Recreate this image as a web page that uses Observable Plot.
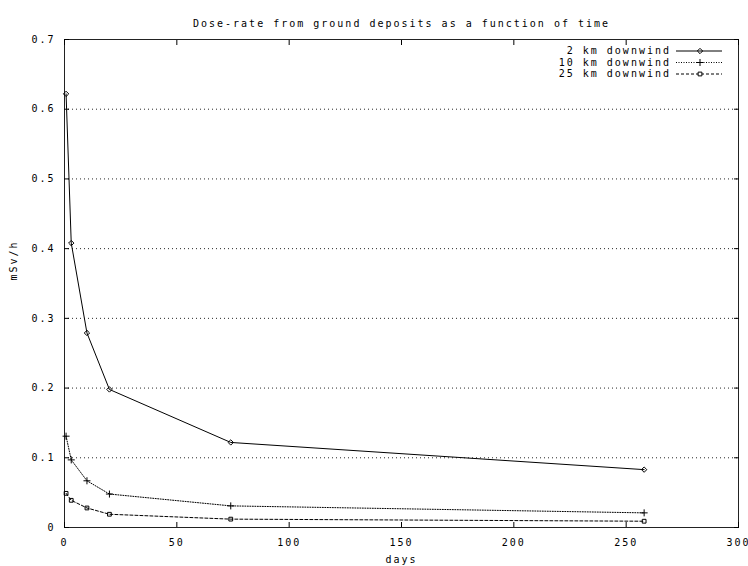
<!DOCTYPE html>
<html>
<head>
<meta charset="utf-8">
<script src="https://cdn.jsdelivr.net/npm/d3@7"></script>
<script src="https://cdn.jsdelivr.net/npm/@observablehq/plot@0.6"></script>
<style>
  html, body { margin: 0; padding: 0; background: #fff; }
  svg { display: block; }
</style>
</head>
<body>
<div id="chart"></div>
<script>
// ---- Data ----
const days = [0.7, 3, 10, 20, 74, 258];
const seriesNames = ["2 km downwind", "10 km downwind", "25 km downwind"];
const dose2km  = [0.622, 0.408, 0.279, 0.198, 0.122, 0.083];
const dose10km = [0.131, 0.097, 0.067, 0.048, 0.031, 0.021];
const dose25km = [0.049, 0.039, 0.028, 0.019, 0.012, 0.009];
const xTicks = [0, 50, 100, 150, 200, 250, 300];
const yTicks = [0, 0.1, 0.2, 0.3, 0.4, 0.5, 0.6, 0.7];
const titleText = "Dose-rate from ground deposits as a function of time";
const xLabel = "days";
const yLabel = "mSv/h";

const seriesValues = [dose2km, dose10km, dose25km];
const rows = seriesNames.map((name, i) => days.map((d, j) => ({series: name, day: d, dose: seriesValues[i][j]})));

const dash = ["none", "1,1.5", "3,2"];
const symbols = ["diamond2", "plus", "square2"];
const font = "'DejaVu Sans Mono', 'Liberation Mono', monospace";
const yFmt = d => d === 0 ? "0" : d.toFixed(1);
const blank = () => "";

const marks = [
  Plot.gridY(yTicks.filter(v => v > 0 && v < 0.7), {stroke: "#000", strokeOpacity: 0.85, strokeDasharray: "1,3"}),
  Plot.frame({stroke: "#222"}),
  Plot.axisY(yTicks, {anchor: "left", tickSize: 0, tickPadding: 9, tickFormat: yFmt, label: null}),
  Plot.axisY(yTicks, {anchor: "left", tickSize: -5, tickPadding: 0, tickFormat: blank, label: null}),
  Plot.axisY(yTicks, {anchor: "right", tickSize: -5, tickPadding: 0, tickFormat: blank, label: null}),
  Plot.axisX(xTicks, {anchor: "bottom", tickSize: 0, tickPadding: 11, label: null}),
  Plot.axisX(xTicks, {anchor: "bottom", tickSize: -5, tickPadding: 0, tickFormat: blank, label: null}),
  Plot.axisX(xTicks, {anchor: "top", tickSize: -5, tickPadding: 0, tickFormat: blank, label: null}),
  Plot.text([titleText], {frameAnchor: "top", dy: -20, text: d => d, fontSize: 10}),
  Plot.text([xLabel], {frameAnchor: "bottom", dy: 35, text: d => d, fontSize: 10}),
  Plot.text([yLabel], {frameAnchor: "left", dx: -51, dy: -3, rotate: -90, text: d => d, fontSize: 10})
];
rows.forEach((data, i) => {
  marks.push(Plot.line(data, {x: "day", y: "dose", stroke: "#000", strokeWidth: 1, strokeDasharray: dash[i]}));
  marks.push(Plot.dot(data, {x: "day", y: "dose", symbol: () => symbols[i], r: 2.4, stroke: "#000", fill: "none", strokeWidth: 1}));
});

const chart = Plot.plot({
  width: 748,
  height: 566,
  marginLeft: 64,
  marginRight: 10,
  marginTop: 39,
  marginBottom: 39,
  x: {domain: [0, 300]},
  y: {domain: [0, 0.7]},
  symbol: {type: "identity"},
  style: {fontFamily: font, fontSize: "10px", letterSpacing: "2px", color: "#000", background: "#fff"},
  marks
});

// ---- Legend (top-right, inside the frame) ----
const svg = d3.select(chart);
const legX = 671, lineX0 = 676, lineX1 = 722, markX = 700;
const rowY = [51, 62.5, 74];
const symGen = [d3.symbolDiamond2, d3.symbolPlus, d3.symbolSquare2];
const g = svg.append("g").attr("font-family", font).attr("font-size", 10);
seriesNames.forEach((name, i) => {
  g.append("text").attr("x", legX).attr("y", rowY[i]).attr("text-anchor", "end")
    .attr("dominant-baseline", "middle").attr("fill", "#000").text(name);
  g.append("line").attr("x1", lineX0).attr("x2", lineX1).attr("y1", rowY[i]).attr("y2", rowY[i])
    .attr("stroke", "#000").attr("stroke-dasharray", dash[i]);
  g.append("path").attr("d", d3.symbol(symGen[i], Math.PI * 2.4 * 2.4)())
    .attr("transform", `translate(${markX},${rowY[i]})`)
    .attr("fill", i === 2 ? "#fff" : "none").attr("stroke", "#000");
});

document.getElementById("chart").appendChild(chart);
</script>
</body>
</html>
